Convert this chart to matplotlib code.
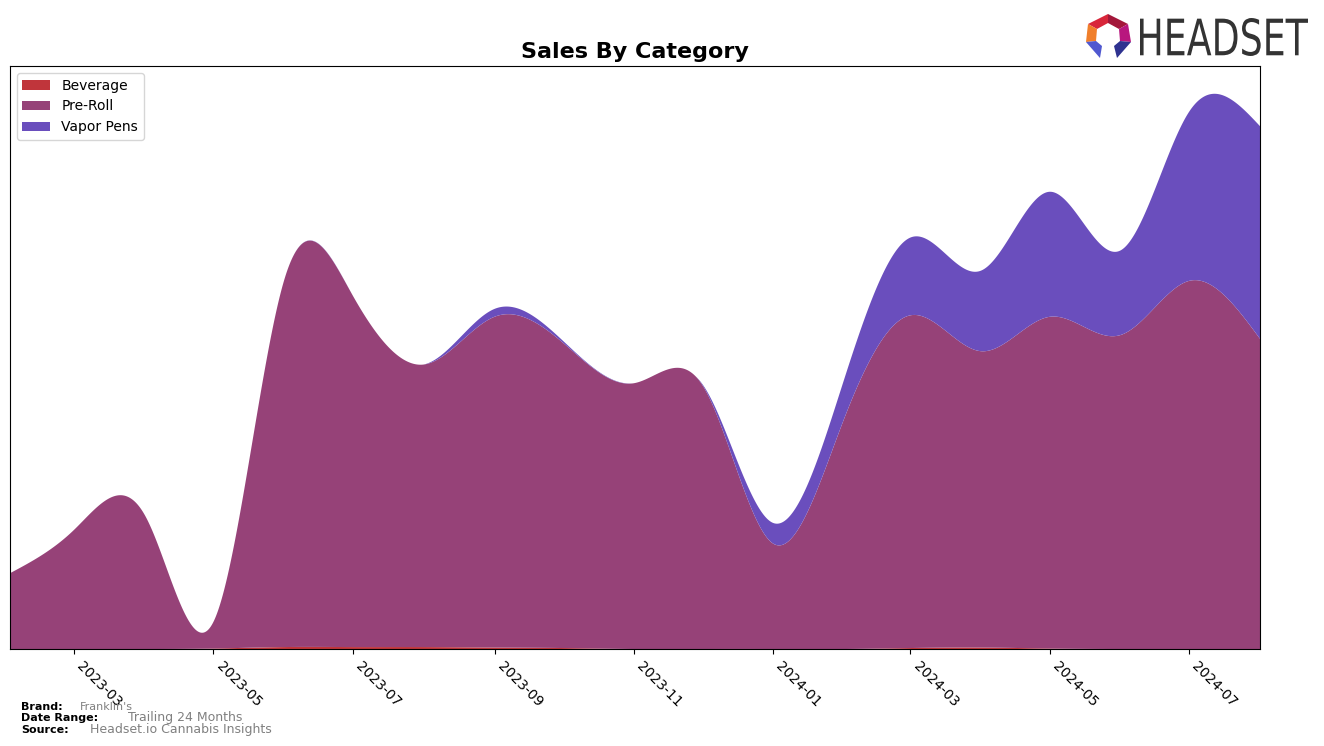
import numpy as np
import matplotlib
matplotlib.use("Agg")
import matplotlib.pyplot as plt
import matplotlib.dates as mdates
from matplotlib.patches import Polygon, PathPatch
from matplotlib.textpath import TextPath
from matplotlib.font_manager import FontProperties
from matplotlib.transforms import Affine2D
import datetime as dt

# Monthly sales (arbitrary units)
months = ["2023-02", "2023-03", "2023-04", "2023-05", "2023-06", "2023-07",
          "2023-08", "2023-09", "2023-10", "2023-11", "2023-12", "2024-01",
          "2024-02", "2024-03", "2024-04", "2024-05", "2024-06", "2024-07",
          "2024-08"]
beverage = [0, 0, 0, 0.5, 2, 2, 2, 1.5, 1, 0, 0, 0, 0, 1, 1.5, 0.5, 0, 0, 0]
pre_roll = [77, 121, 136, 27, 373, 357, 287, 336, 310, 270, 268, 107,
            234, 338, 301, 337, 319, 374, 315]
vapor_pens = [0, 0, 0, 0, 0, 0, 0, 8, 2, 0, 1, 21, 40, 79, 82, 127, 86, 172, 216]

categories = ["Beverage", "Pre-Roll", "Vapor Pens"]
colors = ["#C0353B", "#964278", "#6A4EBD"]


def spline(x, y, xs):
    # natural cubic spline
    x = np.asarray(x, float)
    y = np.asarray(y, float)
    n = len(x) - 1
    h = np.diff(x)
    A = np.zeros((n + 1, n + 1))
    b = np.zeros(n + 1)
    A[0, 0] = A[n, n] = 1
    for i in range(1, n):
        A[i, i - 1] = h[i - 1]
        A[i, i] = 2 * (h[i - 1] + h[i])
        A[i, i + 1] = h[i]
        b[i] = 6 * ((y[i + 1] - y[i]) / h[i] - (y[i] - y[i - 1]) / h[i - 1])
    M = np.linalg.solve(A, b)
    idx = np.clip(np.searchsorted(x, xs) - 1, 0, n - 1)
    x0, x1 = x[idx], x[idx + 1]
    hh = x1 - x0
    return (M[idx] * (x1 - xs) ** 3 / (6 * hh) + M[idx + 1] * (xs - x0) ** 3 / (6 * hh)
            + (y[idx] / hh - M[idx] * hh / 6) * (x1 - xs)
            + (y[idx + 1] / hh - M[idx + 1] * hh / 6) * (xs - x0))


dates = [dt.datetime.strptime(m, "%Y-%m") for m in months]
xnum = mdates.date2num(dates)
xs = np.linspace(xnum[0], xnum[-1], 1500)
series = [np.clip(spline(xnum, s, xs), 0, None) for s in (beverage, pre_roll, vapor_pens)]

fig = plt.figure(figsize=(13.24, 7.46), dpi=100)
ax = fig.add_axes([0.00755, 0.13, 0.9442, 0.7815])
ax.stackplot(mdates.num2date(xs), *series, labels=categories, colors=colors)

ax.set_xlim(dates[0], dates[-1])
ax.set_ylim(0, None)
ax.set_yticks([])
ax.xaxis.set_major_locator(mdates.MonthLocator(bymonth=[1, 3, 5, 7, 9, 11]))
ax.xaxis.set_major_formatter(mdates.DateFormatter("%Y-%m"))
plt.setp(ax.get_xticklabels(), rotation=-45, ha="left", fontsize=10)
ax.set_title("Sales By Category", fontsize=16, fontweight="bold")
ax.legend(loc="upper left", fontsize=10)

# footer
fig.text(0.016, 0.048, "Brand:", fontsize=8, fontweight="bold")
fig.text(0.060, 0.048, "Franklin's", fontsize=8, color="grey")
fig.text(0.016, 0.033, "Date Range:", fontsize=8, fontweight="bold")
fig.text(0.097, 0.033, "Trailing 24 Months", fontsize=9, color="grey")
fig.text(0.016, 0.018, "Source:", fontsize=8, fontweight="bold")
fig.text(0.068, 0.018, "Headset.io Cannabis Insights", fontsize=9, color="grey")

# logo, drawn in figure pixel coordinates
lax = fig.add_axes([0, 0, 1, 1], zorder=5)
lax.set_xlim(0, 1324)
lax.set_ylim(746, 0)
lax.axis("off")
lax.patch.set_alpha(0)

tp = TextPath((0, 0), "HEADSET", size=1, prop=FontProperties(family="DejaVu Sans"))
bb = tp.get_extents()
tr = (Affine2D().translate(-bb.x0, -bb.y0)
      .scale(168 / bb.width, -38 / bb.height).translate(1140, 56))
lax.add_patch(PathPatch(tr.transform_path(tp), color="#333333", lw=0))

o_top, o_tl, o_tr = (1108, 14), (1088, 24), (1128, 24)
o_l, o_r = (1086, 42), (1131, 42)
tip_l, tip_r = (1100, 58), (1117, 58)
i_top, i_tl, i_tr = (1108, 23), (1097, 29), (1119, 29)
i_l, i_r = (1096, 41), (1120, 41)
i_bl, i_br = (1102, 46), (1114, 46)
pieces = [
    ([o_top, o_tl, i_tl, i_top], "#D8263A"),
    ([o_top, o_tr, i_tr, i_top], "#A3173A"),
    ([o_tl, o_l, i_l, i_tl], "#F07F2B"),
    ([o_tr, o_r, i_r, i_tr], "#B8177E"),
    ([o_l, i_l, i_bl, tip_l], "#5058D0"),
    ([o_r, i_r, i_br, tip_r], "#2E3290"),
]
for pts, c in pieces:
    lax.add_patch(Polygon(pts, closed=True, color=c, lw=0))

fig.savefig("out.png", dpi=100)
